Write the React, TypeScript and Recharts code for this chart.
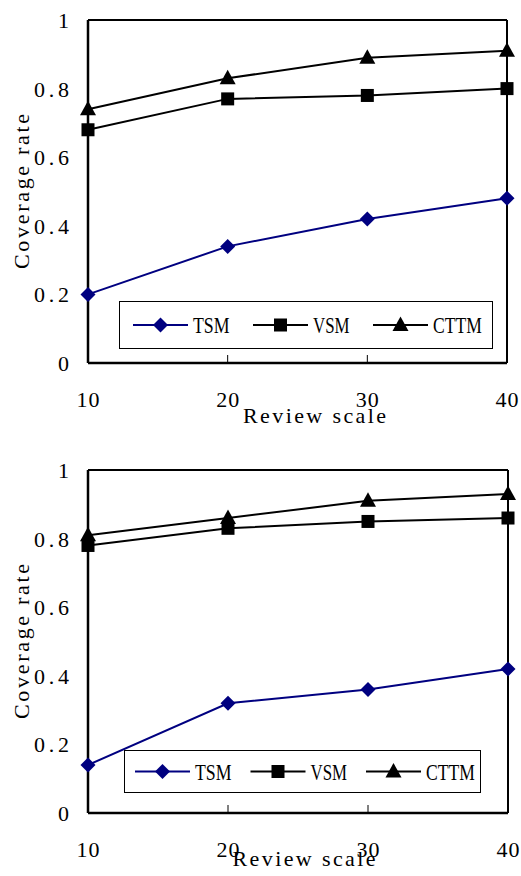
import React from 'react';
import { LineChart, Line, XAxis, YAxis, Label } from 'recharts';

// ---- data ----
const scales = [10, 20, 30, 40];
const xTickLabels = ['10', '20', '30', '40'];
const yTicks = [0, 0.2, 0.4, 0.6, 0.8, 1];
const yTickLabels = ['0', '0.2', '0.4', '0.6', '0.8', '1'];
const seriesNames = ['TSM', 'VSM', 'CTTM'];
const seriesColors = ['#000080', '#000000', '#000000'];
const seriesMarkers = ['diamond', 'square', 'triangle'];

const tsmTop = [0.2, 0.34, 0.42, 0.48];
const vsmTop = [0.68, 0.77, 0.78, 0.8];
const cttmTop = [0.74, 0.83, 0.89, 0.91];

const tsmBottom = [0.14, 0.32, 0.36, 0.42];
const vsmBottom = [0.78, 0.83, 0.85, 0.86];
const cttmBottom = [0.81, 0.86, 0.91, 0.93];

const xTitle = 'Review scale';
const yTitle = 'Coverage rate';

// ---- styling helpers ----
const FONT = '"Liberation Serif", "DejaVu Serif", serif';
const CW = 12; // monospace-like cell width

// approximate Liberation Serif advance widths (em) for legend labels
const EM: Record<string, number> = { T: 0.611, S: 0.556, M: 0.889, V: 0.722, C: 0.667 };

function TallText({ x, y, anchor = 'middle', size = 22, rotate = 0, children }: any) {
  const s = String(children);
  const tr = rotate ? `translate(${x},${y}) rotate(${rotate})` : `translate(${x},${y})`;
  const extra: any = s.length > 1 ? { textLength: s.length * CW - 1, lengthAdjust: 'spacing' } : {};
  return (
    <g transform={tr}>
      <text x={0} y={0} textAnchor={anchor} fontFamily={FONT} fontSize={size} fill="#000" {...extra}>
        {s}
      </text>
    </g>
  );
}

function CondensedText({ x, y, size = 23, children }: any) {
  const s = String(children);
  const natural = s.split('').reduce((a, c) => a + (EM[c] ?? 0.6), 0) * size;
  const target = s.length * 12.2;
  const sx = Math.min(1, target / natural);
  return (
    <g transform={`translate(${x},${y}) scale(${sx},1)`}>
      <text x={0} y={0} textAnchor="start" fontFamily={FONT} fontSize={size} fill="#000">
        {s}
      </text>
    </g>
  );
}

function Marker({ kind, cx, cy, color }: any) {
  if (kind === 'diamond')
    return <path d={`M${cx},${cy - 7.5}L${cx + 7.5},${cy}L${cx},${cy + 7.5}L${cx - 7.5},${cy}Z`} fill={color} />;
  if (kind === 'square') return <rect x={cx - 6.5} y={cy - 6.5} width={13} height={13} fill={color} />;
  return <path d={`M${cx},${cy - 8.5}L${cx + 8},${cy + 6}L${cx - 8},${cy + 6}Z`} fill={color} />;
}

function XTick(p: any) {
  const idx = scales.indexOf(p.payload.value);
  return (
    <g>
      <line x1={p.x} x2={p.x} y1={p.y} y2={p.y - 8} stroke="#000" strokeWidth={1} />
      <TallText x={p.x} y={p.y + 44}>{xTickLabels[idx]}</TallText>
    </g>
  );
}

function YTick(p: any) {
  const idx = yTicks.findIndex((v) => Math.abs(v - p.payload.value) < 1e-9);
  return (
    <g>
      <TallText x={p.x - 19} y={p.y + 8} anchor="end">{yTickLabels[idx]}</TallText>
    </g>
  );
}

function LegendBox({ left, top, width, height, start, spacing }: any) {
  const iw = width - 2;
  const ih = height - 2;
  const cy = ih / 2;
  return (
    <div
      style={{
        position: 'absolute',
        left,
        top,
        width,
        height,
        border: '1px solid #000',
        background: '#fff',
        boxSizing: 'border-box',
      }}
    >
      <svg width={iw} height={ih} style={{ display: 'block' }}>
        {seriesNames.map((n, i) => {
          const x0 = start + i * spacing - 1;
          return (
            <g key={n}>
              <line x1={x0} x2={x0 + 55} y1={cy} y2={cy} stroke={seriesColors[i]} strokeWidth={2} />
              <Marker kind={seriesMarkers[i]} cx={x0 + 27.5} cy={cy} color={seriesColors[i]} />
              <CondensedText x={x0 + 60} y={cy + 8}>
                {n}
              </CondensedText>
            </g>
          );
        })}
      </svg>
    </div>
  );
}

function Panel({ tsm, vsm, cttm, height, box, legend, xLabelDx, xLabelDy }: any) {
  const data = scales.map((s, i) => ({ scale: s, TSM: tsm[i], VSM: vsm[i], CTTM: cttm[i] }));
  const margin = { top: box.top - 1, right: 521 - box.right - 1, bottom: height - box.bottom - 1, left: box.left - 1 };
  const plotW = box.right - box.left;
  const plotH = box.bottom - box.top;
  return (
    <div style={{ position: 'relative', width: 521, height }}>
      <LineChart width={521} height={height} data={data} margin={margin}>
        <XAxis
          dataKey="scale"
          type="number"
          domain={[10, 40]}
          ticks={scales}
          interval={0}
          height={1}
          tickSize={0}
          tickMargin={0}
          axisLine={{ stroke: '#000', strokeWidth: 2.5 }}
          tickLine={false}
          tick={(p: any) => <XTick {...p} />}
          label={
            <Label
              value={xTitle}
              content={() => (
                <TallText x={box.left + plotW / 2 + xLabelDx} y={box.bottom + xLabelDy}>
                  {xTitle}
                </TallText>
              )}
            />
          }
        />
        <XAxis
          xAxisId="top"
          orientation="top"
          dataKey="scale"
          type="number"
          domain={[10, 40]}
          height={1}
          tick={false}
          tickLine={false}
          axisLine={{ stroke: '#000', strokeWidth: 2 }}
        />
        <YAxis
          type="number"
          domain={[0, 1]}
          ticks={yTicks}
          interval={0}
          width={1}
          tickSize={0}
          tickMargin={0}
          axisLine={{ stroke: '#000', strokeWidth: 2.5 }}
          tickLine={false}
          tick={(p: any) => <YTick {...p} />}
          label={
            <Label
              value={yTitle}
              content={() => (
                <TallText x={29} y={box.top + plotH / 2} rotate={-90}>
                  {yTitle}
                </TallText>
              )}
            />
          }
        />
        <YAxis
          yAxisId="right"
          orientation="right"
          type="number"
          domain={[0, 1]}
          width={1}
          tick={false}
          tickLine={false}
          axisLine={{ stroke: '#000', strokeWidth: 2 }}
        />
        {seriesNames.map((n, i) => (
          <Line
            key={n}
            dataKey={n}
            stroke={seriesColors[i]}
            strokeWidth={2}
            isAnimationActive={false}
            activeDot={false}
            dot={(p: any) => (
              <Marker key={`${n}-${p.index}`} kind={seriesMarkers[i]} cx={p.cx} cy={p.cy} color={seriesColors[i]} />
            )}
          />
        ))}
      </LineChart>
      <LegendBox {...legend} />
    </div>
  );
}

export default function App() {
  return (
    <div style={{ position: 'absolute', left: 0, top: 0, width: 521, height: 876, background: '#fff', overflow: 'hidden' }}>
      <Panel
        tsm={tsmTop}
        vsm={vsmTop}
        cttm={cttmTop}
        height={430}
        box={{ left: 88, top: 20, right: 507, bottom: 363 }}
        legend={{ left: 119, top: 301, width: 374, height: 48, start: 14, spacing: 120 }}
        xLabelDx={17}
        xLabelDy={60}
      />
      <Panel
        tsm={tsmBottom}
        vsm={vsmBottom}
        cttm={cttmBottom}
        height={446}
        box={{ left: 88, top: 40, right: 508, bottom: 383 }}
        legend={{ left: 124, top: 320, width: 357, height: 43, start: 11, spacing: 115.5 }}
        xLabelDx={6}
        xLabelDy={53}
      />
    </div>
  );
}
